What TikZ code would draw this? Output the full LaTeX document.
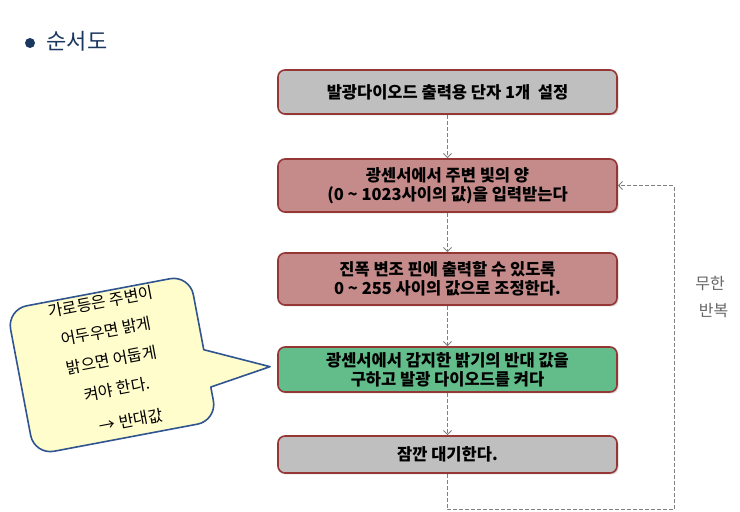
\documentclass[tikz,border=0pt]{standalone}
\usepackage{fontspec}
\setmainfont{Noto Sans CJK KR}
\usetikzlibrary{arrows.meta,shadows}
\definecolor{bordr}{HTML}{953735}
\definecolor{boxgray}{HTML}{BFBFBF}
\definecolor{boxrose}{HTML}{C58B8A}
\definecolor{boxgreen}{HTML}{62BD8A}
\definecolor{arrowgray}{HTML}{808080}
\definecolor{calloutfill}{HTML}{FFFDCB}
\definecolor{calloutborder}{HTML}{2F5490}
\definecolor{titleblue}{HTML}{1B365F}
\definecolor{loopgray}{HTML}{666666}
\begin{document}
\begin{tikzpicture}[x=1pt,y=1pt]
\useasboundingbox (0,0) rectangle (740,512);
\tikzset{
 stepbox/.style={draw=bordr, line width=1.6pt, rounded corners=7pt, minimum width=339pt,
   align=center, font=\fontsize{16.5}{19}\selectfont\bfseries, inner sep=0pt,
   drop shadow={shadow xshift=1.5pt,shadow yshift=-1.5pt,opacity=0.3}},
 flow/.style={draw=arrowgray, line width=1pt, dash pattern=on 4pt off 2pt,
   -{Straight Barb[length=4pt,width=8pt]}},
}
% title
\node[circle, fill=titleblue, minimum size=10pt, inner sep=0pt] (bullet) at (30,469) {};
\node[font=\fontsize{22}{22}\selectfont, text=titleblue, anchor=west] (title) at (43,471) {순서도};
% steps
\node[stepbox, fill=boxgray, minimum height=44pt] (s1) at (447.5,420) {발광다이오드 출력용 단자 1개\ \ 설정};
\node[stepbox, fill=boxrose, minimum height=53pt] (s2) at (447.5,326.5) {광센서에서 주변 빛의 양\\(0 \textasciitilde{} 1023사이의 값)을 입력받는다};
\node[stepbox, fill=boxrose, minimum height=52pt] (s3) at (447.5,233) {진폭 변조 핀에 출력할 수 있도록\\0 \textasciitilde{} 255 사이의 값으로 조정한다.};
\node[stepbox, fill=boxgreen, minimum height=45pt] (s4) at (447.5,142.5) {광센서에서 감지한 밝기의 반대 값을\\구하고 발광 다이오드를 켜다};
\node[stepbox, fill=boxgray, minimum height=37pt] (s5) at (447.5,57.5) {잠깐 대기한다.};
\draw[flow] (s1) -- (s2);
\draw[flow] (s2) -- (s3);
\draw[flow] (s3) -- (s4);
\draw[flow] (s4) -- (s5);
\coordinate (rb) at (674,2);
\draw[flow] (s5.south) |- (rb) |- (s2.east);
\node[text=loopgray, font=\fontsize{16}{27}\selectfont, align=center] (loop) at (710,215) {무한\\\ \ 반복};
% callout
\begin{scope}[shift={(112,147)}, rotate=10.7]
\draw[fill=calloutfill, draw=calloutborder, line width=1.6pt, line join=round]
  (155,-31) -- (93,-2) [rounded corners=20pt] -- (93,74) -- (-93,74) -- (-93,-74) -- (93,-74)
  [sharp corners] -- (93,-40) -- cycle;
\end{scope}
\node[rotate=10.7, align=center, font=\fontsize{16}{29.5}\selectfont] (note) at (112,150)
  {가로등은 주변이\\어두우면 밝게\\밝으면 어둡게\\켜야 한다.\\[4pt]\quad → 반대값};
\end{tikzpicture}
\end{document}
